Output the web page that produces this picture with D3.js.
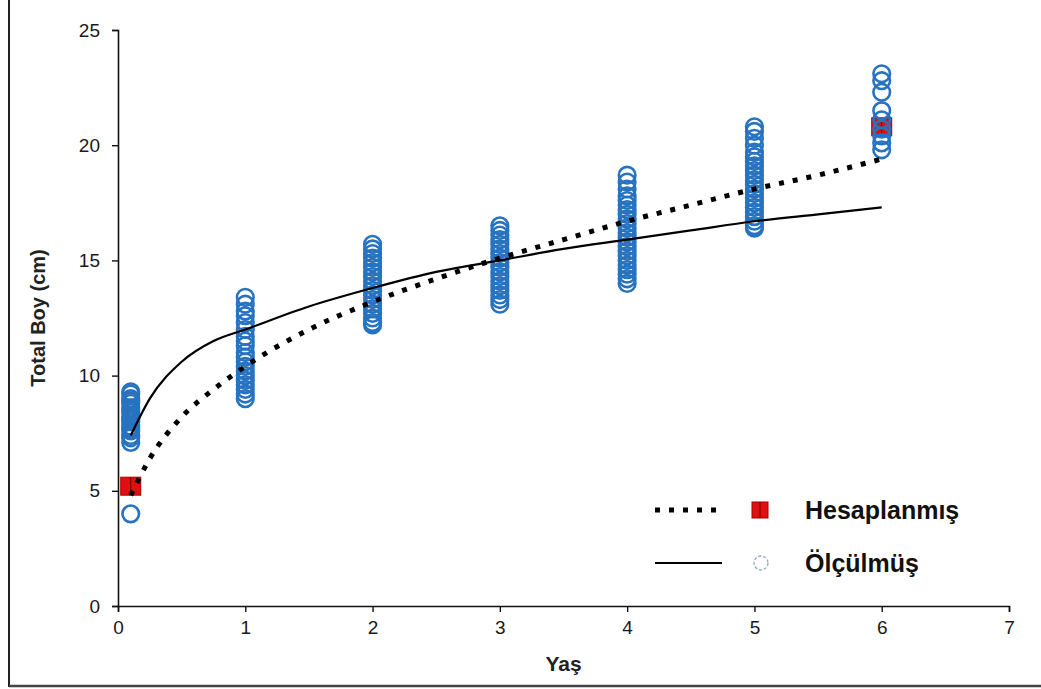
<!DOCTYPE html>
<html><head><meta charset="utf-8">
<script src="https://cdn.jsdelivr.net/npm/d3@7"></script>
<style>body{margin:0;background:#fff}svg{display:block;font-family:"Liberation Sans",Arial,sans-serif}</style>
</head><body><svg id="c" width="1041" height="689"></svg>
<script>
// Measured lengths (Ölçülmüş) by age
const ages = [0.1, 1, 2, 3, 4, 5, 6];
const measured = [
  [9.3, 9.2, 9.0, 8.9, 8.8, 8.6, 8.5, 8.4, 8.2, 8.1, 8.0, 7.8, 7.7, 7.6, 7.4, 7.3, 7.1, 4.0],
  [13.4, 13.1, 12.8, 12.6, 12.3, 12.0, 11.7, 11.5, 11.3, 11.0, 10.8, 10.6, 10.4, 10.2, 10.0, 9.8, 9.6, 9.4, 9.2, 9.0],
  [15.7, 15.5, 15.3, 15.1, 14.9, 14.7, 14.5, 14.3, 14.1, 13.9, 13.7, 13.5, 13.3, 13.1, 12.9, 12.7, 12.5, 12.3, 12.2],
  [16.5, 16.3, 16.1, 15.9, 15.7, 15.5, 15.3, 15.1, 14.9, 14.7, 14.5, 14.3, 14.1, 13.9, 13.7, 13.5, 13.3, 13.1],
  [18.7, 18.4, 18.1, 17.8, 17.6, 17.4, 17.2, 17.0, 16.8, 16.6, 16.4, 16.2, 16.0, 15.8, 15.6, 15.4, 15.2, 15.0, 14.8, 14.6, 14.4, 14.2, 14.0],
  [20.8, 20.6, 20.3, 20.0, 19.7, 19.5, 19.3, 19.1, 18.9, 18.7, 18.5, 18.3, 18.1, 17.9, 17.7, 17.5, 17.3, 17.1, 16.9, 16.7, 16.5, 16.4],
  [23.1, 22.8, 22.3, 21.5, 21.1, 20.7, 20.4, 20.1, 19.8]
];
// Calculated (Hesaplanmış) points
const calcAges = [0.1, 6];
const calcValues = [5.2, 20.8];
// Fitted curves
const curveX = [0.1, 0.25, 0.5, 0.75, 1, 1.5, 2, 2.5, 3, 3.5, 4, 4.5, 5, 5.5, 6];
const dottedY = [4.8, 6.4, 8.2, 9.4, 10.4, 12.0, 13.2, 14.2, 15.1, 15.9, 16.7, 17.4, 18.1, 18.7, 19.4];
const solidY = [7.4, 9.0, 10.6, 11.5, 12.0, 13.0, 13.8, 14.5, 15.0, 15.5, 15.9, 16.3, 16.7, 17.0, 17.3];
const xTicks = [0, 1, 2, 3, 4, 5, 6, 7];
const yTicks = [0, 5, 10, 15, 20, 25];
const legendLabels = ["Hesaplanmış", "Ölçülmüş"];

const svg = d3.select("#c");
const x = d3.scaleLinear().domain([0, 7]).range([118, 1009]);
const y = d3.scaleLinear().domain([0, 25]).range([606, 30]);

// outer frame lines
svg.append("line").attr("x1", 9).attr("x2", 9).attr("y1", 0).attr("y2", 687).attr("stroke", "#222").attr("stroke-width", 2);
svg.append("line").attr("x1", 9).attr("x2", 1041).attr("y1", 686).attr("y2", 686).attr("stroke", "#444").attr("stroke-width", 2.5);

// axes
const gx = svg.append("g").attr("transform", `translate(0,${y(0)})`)
  .call(d3.axisBottom(x).tickValues(xTicks).tickFormat(d3.format("d")).tickSize(6).tickPadding(9));
const gy = svg.append("g").attr("transform", `translate(${x(0)},0)`)
  .call(d3.axisLeft(y).tickValues(yTicks).tickFormat(d3.format("d")).tickSize(6).tickPadding(12));
[gx, gy].forEach(g => {
  g.select(".domain").attr("stroke", "#111").attr("stroke-width", 1.6);
  g.selectAll(".tick line").attr("stroke", "#111").attr("stroke-width", 1.4);
  g.selectAll(".tick text").attr("fill", "#1a1a1a").style("font-size", "19px").style("font-family", "'Liberation Sans',Arial,sans-serif");
});

// axis titles
svg.append("text").attr("x", x(3.5)).attr("y", 671).attr("text-anchor", "middle")
  .style("font-size", "21px").style("font-weight", "bold").attr("fill", "#222").text("Yaş");
svg.append("text").attr("transform", `translate(45,${y(12.5)}) rotate(-90)`).attr("text-anchor", "middle")
  .style("font-size", "20px").style("font-weight", "bold").attr("fill", "#222").text("Total Boy (cm)");

// calculated red squares
const blue = "#2773c0";
svg.append("g").selectAll("rect").data(calcAges.map((a, i) => [a, calcValues[i]])).join("rect")
  .attr("x", d => x(d[0]) - 10).attr("y", d => y(d[1]) - 9).attr("width", 20).attr("height", 18)
  .attr("fill", "#e01010").attr("stroke", "#a00").attr("stroke-width", 1);
svg.append("g").selectAll("line").data(calcAges.map((a, i) => [a, calcValues[i]])).join("line")
  .attr("x1", d => x(d[0])).attr("x2", d => x(d[0])).attr("y1", d => y(d[1]) - 9).attr("y2", d => y(d[1]) + 9)
  .attr("stroke", "#600").attr("stroke-width", 1);

// measured circles
const pts = [];
ages.forEach((a, i) => measured[i].forEach(v => pts.push([a, v])));
svg.append("g").selectAll("circle").data(pts).join("circle")
  .attr("cx", d => x(d[0])).attr("cy", d => y(d[1])).attr("r", 8.3)
  .attr("fill", "none").attr("stroke", blue).attr("stroke-width", 2.6);

// curves
const line = d3.line().x((d, i) => x(curveX[i])).y(d => y(d)).curve(d3.curveMonotoneX);
svg.append("path").attr("d", line(solidY)).attr("fill", "none").attr("stroke", "#000").attr("stroke-width", 2.2);
svg.append("path").attr("d", line(dottedY)).attr("fill", "none").attr("stroke", "#000")
  .attr("stroke-width", 5).attr("stroke-dasharray", "5,9").attr("stroke-linecap", "butt");

// legend
const lg = svg.append("g");
lg.append("line").attr("x1", 655).attr("x2", 722).attr("y1", 510).attr("y2", 510)
  .attr("stroke", "#000").attr("stroke-width", 5).attr("stroke-dasharray", "5,9");
lg.append("rect").attr("x", 752).attr("y", 502).attr("width", 16).attr("height", 16).attr("fill", "#e01010").attr("stroke", "#a00");
lg.append("line").attr("x1", 760).attr("x2", 760).attr("y1", 502).attr("y2", 518).attr("stroke", "#600").attr("stroke-width", 1);
lg.append("line").attr("x1", 655).attr("x2", 722).attr("y1", 563).attr("y2", 563).attr("stroke", "#000").attr("stroke-width", 2.2);
lg.append("circle").attr("cx", 761).attr("cy", 563).attr("r", 7).attr("fill", "none")
  .attr("stroke", "#8ab").attr("stroke-width", 1.3).attr("stroke-dasharray", "3,2");
lg.selectAll("text.l").data(legendLabels).join("text").attr("class", "l")
  .attr("x", 805).attr("y", (d, i) => 519 + i * 53)
  .style("font-size", "25px").style("font-weight", "bold").attr("fill", "#111").text(d => d);
</script></body></html>
